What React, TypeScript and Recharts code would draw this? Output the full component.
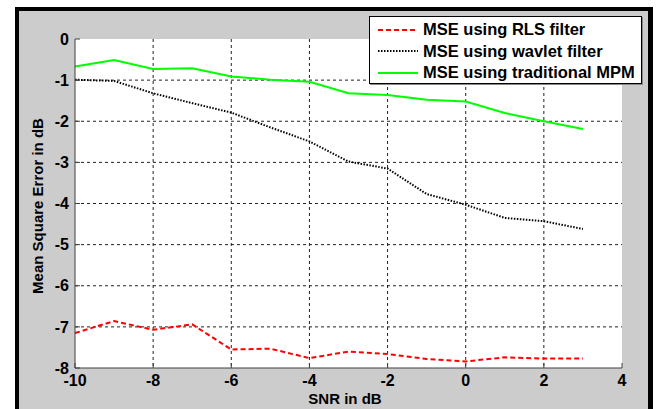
import React from 'react';
import { LineChart, Line, XAxis, YAxis, CartesianGrid, Legend } from 'recharts';

const snr = [-10, -9, -8, -7, -6, -5, -4, -3, -2, -1, 0, 1, 2, 3];
const rls = [-7.15, -6.86, -7.07, -6.94, -7.55, -7.53, -7.76, -7.6, -7.66, -7.78, -7.84, -7.74, -7.77, -7.77];
const wavlet = [-0.99, -1.02, -1.32, -1.56, -1.79, -2.15, -2.49, -2.98, -3.15, -3.77, -4.03, -4.35, -4.43, -4.62];
const mpm = [-0.67, -0.51, -0.73, -0.71, -0.91, -0.99, -1.04, -1.32, -1.36, -1.48, -1.52, -1.8, -2.0, -2.19];

const xTicks = [-10, -8, -6, -4, -2, 0, 2, 4];
const yTicks = [-8, -7, -6, -5, -4, -3, -2, -1, 0];

const seriesNames = ['MSE using RLS filter', 'MSE using wavlet filter', 'MSE using traditional MPM'];

const data = snr.map((s, i) => ({ snr: s, rls: rls[i], wavlet: wavlet[i], mpm: mpm[i] }));

const FONT = '"Liberation Sans", Arial, sans-serif';

const legendItems = [
  { name: seriesNames[0], color: '#ff0000', dash: '5 3' },
  { name: seriesNames[1], color: '#000000', dash: '1.5 1.5' },
  { name: seriesNames[2], color: '#00ff00', dash: undefined },
];

const LegendBox = () => (
  <div
    style={{
      width: 273,
      height: 68,
      boxSizing: 'border-box',
      background: '#fff',
      border: '1px solid #000',
      boxShadow: '1px 1px 0 #888',
      paddingTop: 2,
    }}
  >
    {legendItems.map((it) => (
      <div key={it.name} style={{ display: 'flex', alignItems: 'center', height: 21.5 }}>
        <svg width={47} height={10} style={{ marginLeft: 6, flex: 'none' }}>
          <line x1={2} y1={5} x2={42} y2={5} stroke={it.color} strokeWidth={2} strokeDasharray={it.dash} />
        </svg>
        <span style={{ fontFamily: FONT, fontWeight: 'bold', fontSize: 16.5, color: '#000', whiteSpace: 'nowrap' }}>
          {it.name}
        </span>
      </div>
    ))}
  </div>
);

const App = () => {
  return (
    <div style={{ position: 'absolute', left: 0, top: 0, width: 660, height: 409, background: '#fff', overflow: 'hidden' }}>
      <div
        style={{
          position: 'absolute',
          left: 15,
          top: 7,
          width: 638,
          height: 402,
          boxSizing: 'border-box',
          borderLeft: '4px solid #000',
          borderTop: '4px solid #000',
          borderRight: '5px solid #000',
          background: '#cccccc',
        }}
      />
      <div style={{ position: 'absolute', left: 0, top: 0 }}>
        <LineChart width={660} height={409} data={data} margin={{ top: 39, right: 38, bottom: 11, left: 15 }}>
          <CartesianGrid
            fill="#ffffff"
            stroke="#222"
            strokeDasharray="3 3"
            horizontalValues={[-7, -6, -5, -4, -3, -2, -1]}
            verticalValues={[-8, -6, -4, -2, 0, 2]}
          />
          <XAxis
            dataKey="snr"
            type="number"
            domain={[-10, 4]}
            ticks={xTicks}
            interval={0}
            height={30}
            axisLine={{ stroke: '#404040' }}
            tickLine={{ stroke: '#404040' }}
            tickSize={-5}
            tickMargin={12}
            tick={{ fontFamily: FONT, fontWeight: 'bold', fontSize: 16, fill: '#000' }}
            label={{
              content: () => (
                <text x={345} y={404} textAnchor="middle" fontFamily={FONT} fontWeight="bold" fontSize={15} fill="#000">
                  SNR in dB
                </text>
              ),
            }}
          />
          <XAxis
            xAxisId="top"
            orientation="top"
            dataKey="snr"
            type="number"
            domain={[-10, 4]}
            ticks={xTicks}
            height={0}
            axisLine={{ stroke: '#404040' }}
            tickLine={false}
            tick={false}
          />
          <YAxis
            type="number"
            domain={[-8, 0]}
            ticks={yTicks}
            interval={0}
            width={60}
            axisLine={{ stroke: '#404040' }}
            tickLine={{ stroke: '#404040' }}
            tickSize={-5}
            tickMargin={11}
            tick={{ fontFamily: FONT, fontWeight: 'bold', fontSize: 16, fill: '#000' }}
            label={{
              content: () => (
                <text
                  x={43}
                  y={206}
                  transform="rotate(-90 43 206)"
                  textAnchor="middle"
                  fontFamily={FONT}
                  fontWeight="bold"
                  fontSize={15}
                  fill="#000"
                >
                  Mean Square Error in dB
                </text>
              ),
            }}
          />
          <YAxis
            yAxisId="right"
            orientation="right"
            type="number"
            domain={[-8, 0]}
            ticks={yTicks}
            width={0}
            axisLine={{ stroke: '#404040' }}
            tickLine={false}
            tick={false}
          />
          <Line
            dataKey="rls"
            name={seriesNames[0]}
            type="linear"
            stroke="#ff0000"
            strokeWidth={2}
            strokeDasharray="5 3"
            dot={false}
            isAnimationActive={false}
          />
          <Line
            dataKey="wavlet"
            name={seriesNames[1]}
            type="linear"
            stroke="#000000"
            strokeWidth={2}
            strokeDasharray="1.5 1.5"
            dot={false}
            isAnimationActive={false}
          />
          <Line
            dataKey="mpm"
            name={seriesNames[2]}
            type="linear"
            stroke="#00ff00"
            strokeWidth={2}
            dot={false}
            isAnimationActive={false}
          />
          <Legend
            layout="horizontal"
            verticalAlign="middle"
            align="center"
            content={() => <LegendBox />}
            wrapperStyle={{ position: 'absolute', left: 369, top: 16, width: 273, height: 68 }}
          />
        </LineChart>
      </div>
    </div>
  );
};

export default App;
